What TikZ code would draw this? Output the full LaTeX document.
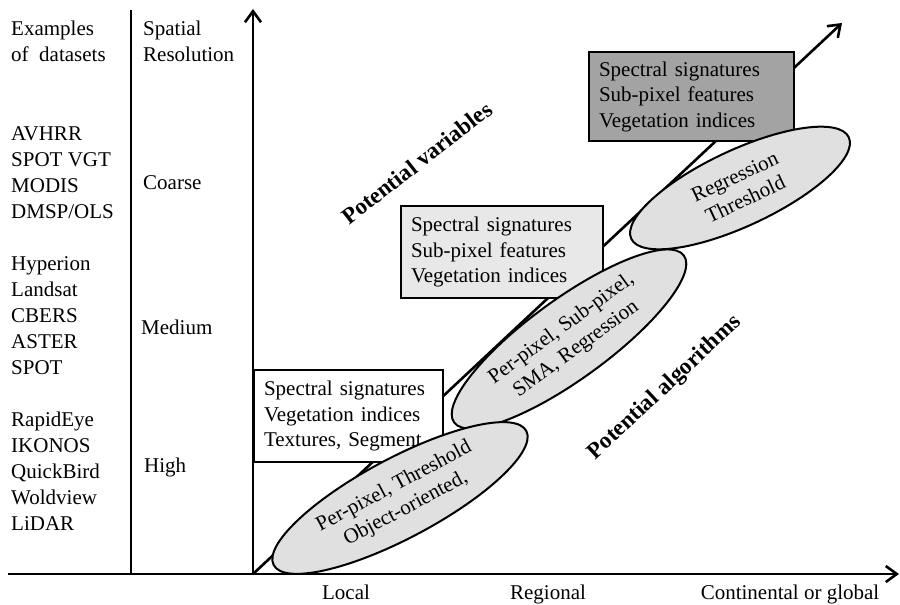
\documentclass[tikz,border=0pt]{standalone}
\usepackage{fontspec}
\setmainfont{Liberation Serif}
\usepackage{tikz}
\usetikzlibrary{arrows.meta,shapes.geometric,positioning}

\definecolor{blobgray}{gray}{0.88}
\definecolor{lightgray}{gray}{0.91}
\definecolor{darkgray}{gray}{0.64}

\begin{document}
\begin{tikzpicture}[x = 1pt, y = -1pt,
txt/.style = {inner sep = 0pt, align = left, anchor = north west, font = \fontsize{21}{26}\selectfont},
lbl/.style = {inner sep = 0pt, anchor = base, font = \fontsize{21}{26}\selectfont},
box/.style = {draw, shape = rectangle, line width = 2pt, anchor = north west, inner xsep = 10pt, inner ysep = 0pt, align = left, font = \fontsize{21}{25.5}\selectfont},
blob/.style = {draw, shape = ellipse, line width = 2pt, fill = blobgray, inner sep = 0pt, align = center, font = \fontsize{21}{25}\selectfont},
axis/.style = {line width = 2.6pt, -{Straight Barb[length = 11pt, width = 16pt]}},
tag/.style = {inner sep = 0pt, font = \bfseries\fontsize{23}{27}\selectfont}]
\useasboundingbox (0,0) rectangle (900,605);

\coordinate (0) at (253,574);
\coordinate (1) at (253,9);
\coordinate (2) at (8,574);
\coordinate (3) at (899,574);
\coordinate (4) at (842,23);
\coordinate (5) at (131,10);
\coordinate (6) at (131,574);

% left columns
\node[txt] (10) at (11,21) {Examples\\of~ datasets};
\node[txt] (11) at (11,126) {AVHRR\\SPOT VGT\\MODIS\\DMSP/OLS};
\node[txt] (12) at (11,256) {Hyperion\\Landsat\\CBERS\\ASTER\\SPOT};
\node[txt] (13) at (11,412) {RapidEye\\IKONOS\\QuickBird\\Woldview\\LiDAR};
\node[txt] (20) at (143,21) {Spatial\\Resolution};
\node[lbl, anchor = base west] (21) at (143,189) {Coarse};
\node[lbl, anchor = base west] (22) at (141,334) {Medium};
\node[lbl, anchor = base west] (23) at (144,472) {High};

\draw[line width = 2.6pt] (5) -- (6);
\draw[line width = 2.6pt] (2) -- (0);
\draw[axis] (0) -- (3);
\draw[axis] (0) -- (1);
\draw[axis] (0) -- (4);

% variables
\node[box, fill = white, minimum width = 189pt, minimum height = 92pt, text width = 169pt] (31) at (253,369) {Spectral signatures\\Vegetation indices\\Textures, Segment};
\node[box, fill = lightgray, minimum width = 202pt, minimum height = 92pt, text width = 182pt] (32) at (400,205) {Spectral signatures\\Sub-pixel features\\Vegetation indices};
\node[box, fill = darkgray, minimum width = 205pt, minimum height = 89pt, text width = 185pt] (33) at (588,51) {Spectral signatures\\Sub-pixel features\\Vegetation indices};

% algorithms
\node[blob, minimum width = 240pt, minimum height = 76pt, rotate = 25] (43) at (740,188) {Regression\\Threshold};
\node[blob, minimum width = 284pt, minimum height = 80pt, rotate = 36] (42) at (569,339) {Per-pixel, Sub-pixel,\\SMA, Regression};
\node[blob, minimum width = 286pt, minimum height = 80pt, rotate = 28] (41) at (400,498) {Per-pixel, Threshold\\Object-oriented,};

\node[tag, rotate = 38] (61) at (417,163) {Potential variables};
\node[tag, rotate = 43] (62) at (665,388) {Potential algorithms};

\node[lbl] (51) at (346,599) {Local};
\node[lbl] (52) at (548,599) {Regional};
\node[lbl] (53) at (790,599) {Continental or global};
\end{tikzpicture}
\end{document}
